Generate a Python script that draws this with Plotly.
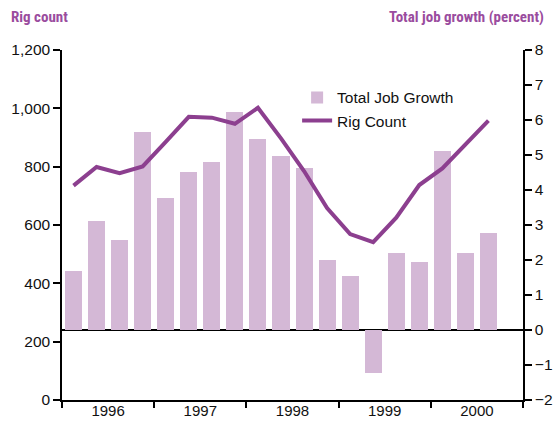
import plotly.graph_objects as go

# Quarterly data, 1996 Q1 - 2000 Q3
quarters = ["1996Q1","1996Q2","1996Q3","1996Q4",
            "1997Q1","1997Q2","1997Q3","1997Q4",
            "1998Q1","1998Q2","1998Q3","1998Q4",
            "1999Q1","1999Q2","1999Q3","1999Q4",
            "2000Q1","2000Q2","2000Q3"]
job_growth = [1.69, 3.11, 2.57, 5.66, 3.77, 4.51, 4.80, 6.23, 5.46, 4.97,
              4.63, 2.00, 1.54, -1.22, 2.19, 1.94, 5.11, 2.20, 2.77]
rig_count = [735, 799, 778, 801, 885, 971, 968, 947, 1002, 897,
             785, 658, 569, 541, 625, 737, 794, 874, 958]
year_labels = ["1996", "1997", "1998", "1999", "2000"]
year_bounds = [-0.5, 3.5, 7.5, 11.5, 15.5, 19.5]
year_centers = [1.5, 5.5, 9.5, 13.5, 17.5]
left_ticks = [0, 200, 400, 600, 800, 1000, 1200]
right_ticks = [-2, -1, 0, 1, 2, 3, 4, 5, 6, 7, 8]

x = list(range(len(quarters)))

BAR = "#D4B8D6"
LINE = "#8C3F8F"
TITLE = "#9A4C9E"
FONT = "Liberation Sans, Arial, sans-serif"
TFONT = "Liberation Sans Narrow, Arial Narrow, Roboto Condensed, sans-serif"

fig = go.Figure()
fig.add_trace(go.Bar(x=x, y=job_growth, name="Total Job Growth",
                     marker=dict(color=BAR, line=dict(width=0)),
                     width=0.74, xaxis="x", yaxis="y"))
fig.add_trace(go.Scatter(x=x, y=rig_count, name="Rig Count", mode="lines",
                         line=dict(color=LINE, width=4), xaxis="x", yaxis="y2"))
# invisible trace so the year-label axis is drawn
fig.add_trace(go.Scatter(x=year_centers, y=[None] * len(year_centers),
                         mode="markers", showlegend=False, hoverinfo="skip",
                         xaxis="x2", yaxis="y"))

fig.update_layout(
    width=555, height=421,
    margin=dict(l=62, r=32, t=50, b=21),
    paper_bgcolor="white", plot_bgcolor="white",
    font=dict(family=FONT, size=15, color="#111"),
    showlegend=True,
    legend=dict(x=0.51, y=0.912, xanchor="left", yanchor="top",
                bgcolor="rgba(0,0,0,0)", font=dict(size=15.5),
                tracegroupgap=0, itemwidth=30),
    bargap=0,
    xaxis=dict(range=[-0.5, 19.5], tickmode="array", tickvals=year_bounds,
               ticktext=[""] * len(year_bounds), ticks="outside", ticklen=6,
               tickwidth=1.5, tickcolor="black", showline=True, linecolor="black",
               linewidth=1.5, showgrid=False, zeroline=False, automargin=False),
    xaxis2=dict(range=[-0.5, 19.5], overlaying="x", side="bottom", anchor="y",
                tickmode="array", tickvals=year_centers, ticktext=year_labels,
                ticks="", ticklen=0, ticklabelstandoff=0,
                showline=False, showgrid=False, zeroline=False,
                tickfont=dict(size=15, color="#111"), automargin=False),
    yaxis=dict(range=[-2, 8], side="right", tickmode="array", tickvals=right_ticks,
               ticktext=[str(v).replace("-", "\u2212") for v in right_ticks],
               ticks="outside", ticklen=7, tickwidth=1.5, tickcolor="black",
               showline=True, linecolor="black", linewidth=1.5, showgrid=False,
               zeroline=True, zerolinecolor="black", zerolinewidth=1.5,
               tickfont=dict(size=15.5, color="#111"), automargin=False),
    yaxis2=dict(range=[0, 1200], side="left", overlaying="y", anchor="x",
                tickmode="array", tickvals=left_ticks,
                ticktext=[f"{v:,}" for v in left_ticks],
                ticks="outside", ticklen=7, tickwidth=1.5, tickcolor="black",
                showline=True, linecolor="black", linewidth=1.5, showgrid=False,
                zeroline=False, tickfont=dict(size=15.5, color="#111"),
                automargin=False),
    annotations=[
        dict(text="<b>Rig count</b>", xref="paper", yref="paper",
             x=-62/461, y=1 + 33/350, xanchor="left", yanchor="middle",
             xshift=9, showarrow=False,
             font=dict(family=TFONT, size=15, color=TITLE)),
        dict(text="<b>Total job growth (percent)</b>", xref="paper", yref="paper",
             x=1 + 32/461, y=1 + 33/350, xanchor="right", yanchor="middle",
             xshift=-9, showarrow=False,
             font=dict(family=TFONT, size=15, color=TITLE)),
    ],
)

fig.write_html("out.html")
